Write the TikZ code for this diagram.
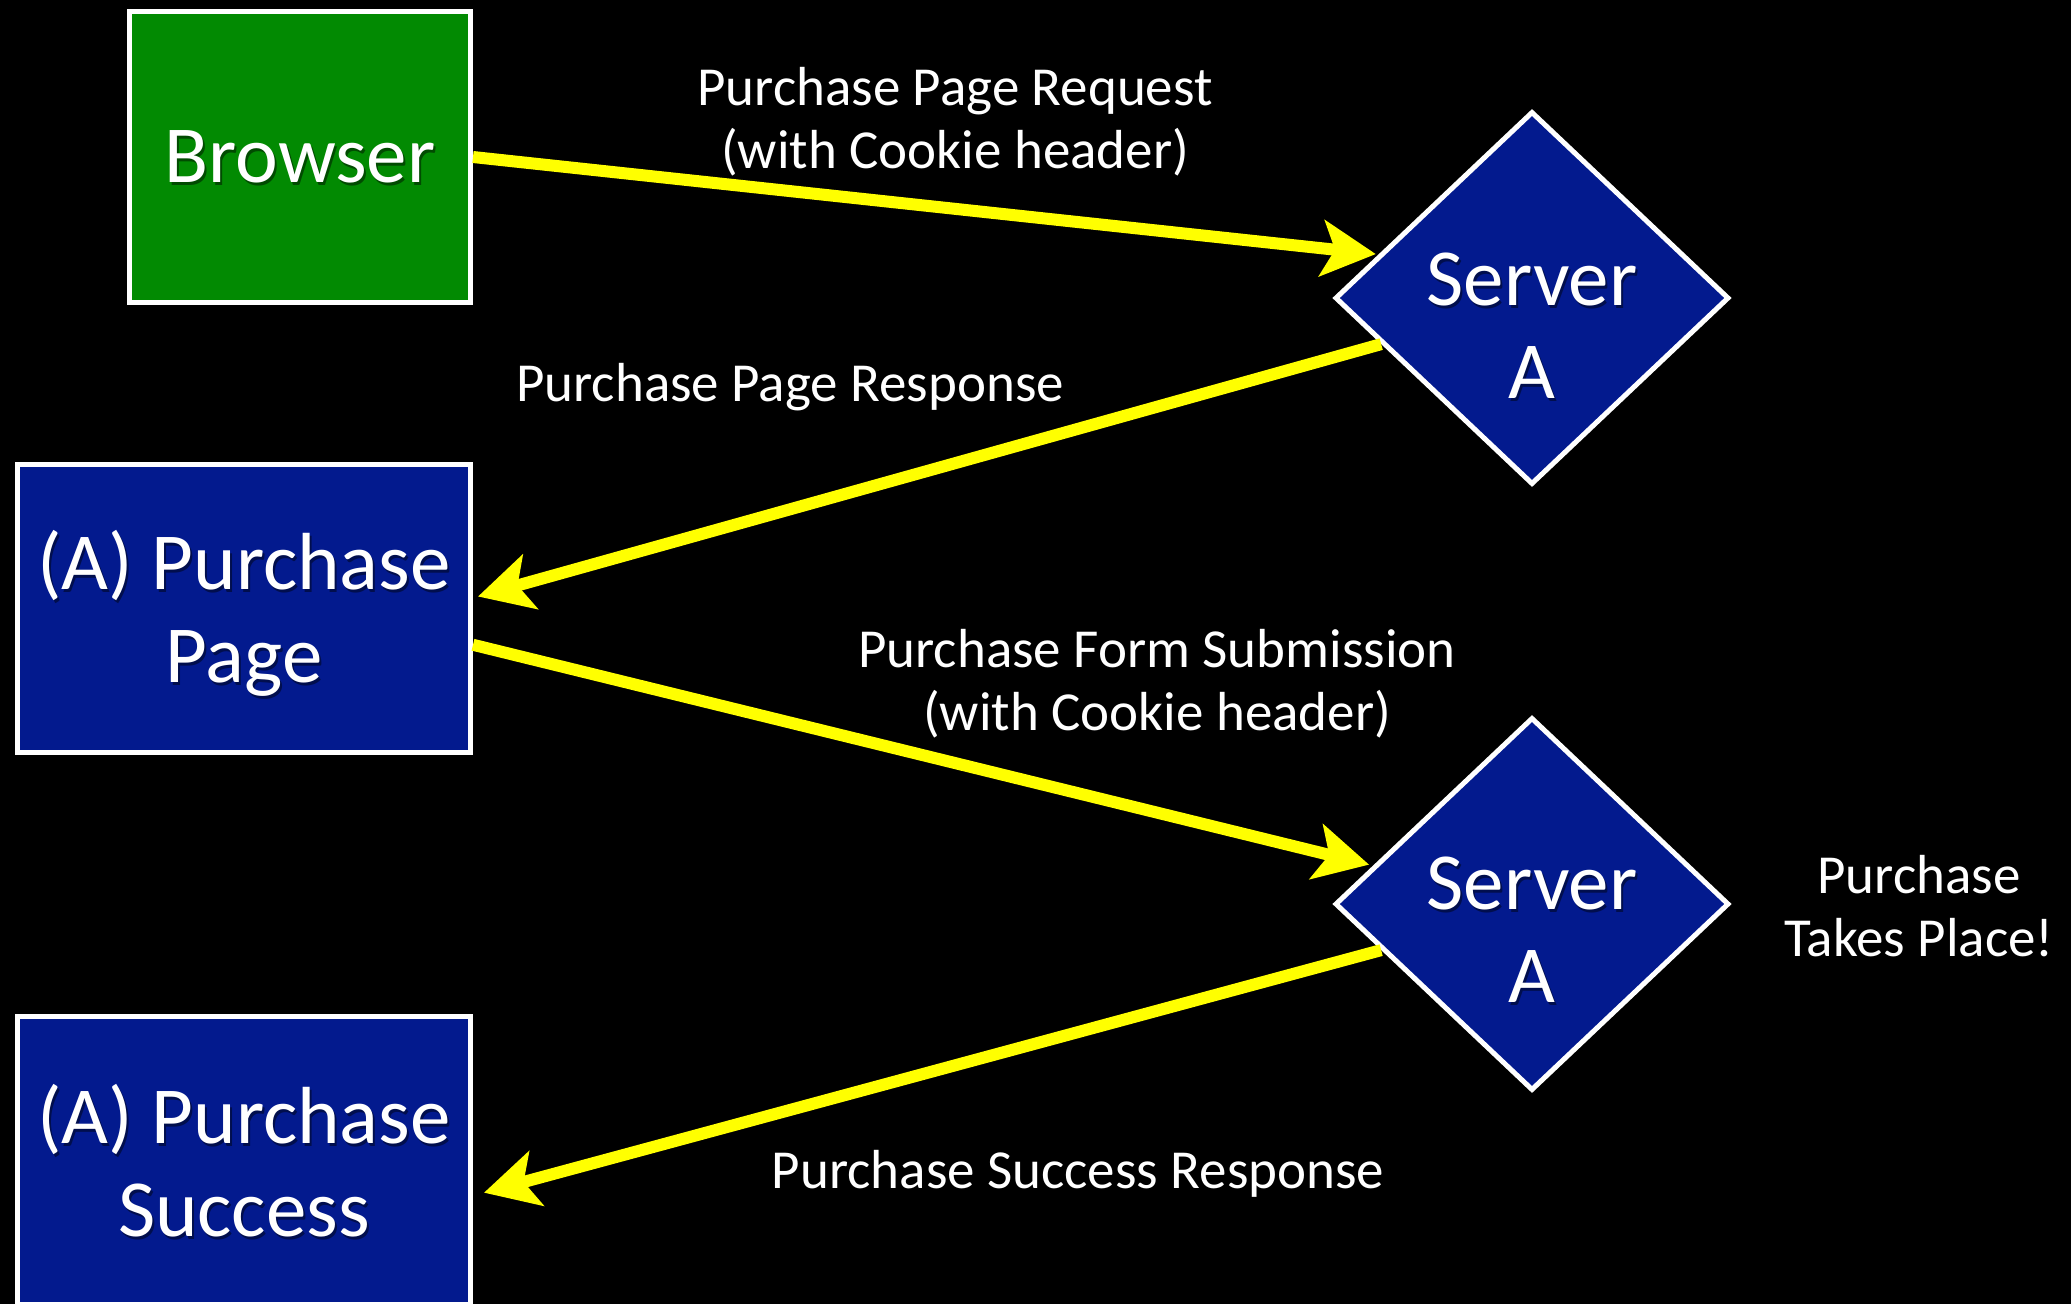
\documentclass[tikz,border=0pt]{standalone}
\usepackage{fontspec}
\setmainfont{Carlito}
\usetikzlibrary{shapes.geometric,arrows.meta,calc}

\definecolor{boxgreen}{RGB}{2,138,2}
\definecolor{boxblue}{RGB}{3,26,142}
\definecolor{flowyellow}{RGB}{255,255,0}

\tikzset{
  box/.style={draw=white, line width=5pt, fill=boxblue, rectangle, inner sep=0pt},
  serverbox/.style={draw=white, line width=5pt, fill=boxblue, diamond, inner sep=0pt,
    minimum width=394pt, minimum height=373pt},
  nodetext/.style={text=white, align=center, font=\fontsize{81}{93}\selectfont},
  nodeshadow/.style={nodetext, text=black, text opacity=0.45},
  flowlabel/.style={text=white, align=center, font=\fontsize{55}{63}\selectfont},
  flow/.style={draw=flowyellow, line width=12pt,
    -{Stealth[length=54pt, width=56pt, inset=13pt]}}
}

% box caption with a soft drop shadow underneath
\newcommand\captionat[3]{%
  \node[nodeshadow] (#2shadow) at ($(#1)+(2,3)$) {#3};
  \node[nodetext] (#2) at (#1) {#3};
}

\begin{document}
\begin{tikzpicture}[x=1pt, y=-1pt]
  \useasboundingbox (0,0) rectangle (2071,1304);
  \clip (0,0) rectangle (2071,1304);
  \fill[black] (0,0) rectangle (2071,1304);

  % client side pages
  \node[box, fill=boxgreen, minimum width=341pt, minimum height=291pt] (browser) at (300,157) {};
  \node[box, minimum width=453pt, minimum height=288pt] (page) at (244,608.5) {};
  \node[box, minimum width=453pt, minimum height=288pt] (success) at (244,1160.5) {};
  \captionat{300,157}{browsertxt}{Browser}
  \captionat{244,613.5}{pagetxt}{(A) Purchase\\Page}
  \captionat{244,1160.5}{successtxt}{(A) Purchase\\Success}

  % server
  \node[serverbox] (srvA) at (1532,298) {};
  \node[serverbox] (srvB) at (1532,904) {};
  \captionat{1532,326}{srvAtxt}{Server\\A}
  \captionat{1532,930}{srvBtxt}{Server\\A}

  % requests and responses
  \draw[flow] (browser.east) -- ($(srvA.164)+(-3,0)$);
  \draw[flow] (srvA.197) -- ($(page.3)+(5,0)$);
  \draw[flow] (page.-9) -- ($(srvB.166)+(-5,0)$);
  \draw[flow] (srvB.197.5) -- ($(success.-8.6)+(11,0)$);

  % labels
  \node[flowlabel] (reqlbl) at (955,122) {Purchase Page Request\\(with Cookie header)};
  \node[flowlabel] (resplbl) at (790,387) {Purchase Page Response};
  \node[flowlabel] (formlbl) at (1157,684) {Purchase Form Submission\\(with Cookie header)};
  \node[flowlabel] (placelbl) at (1919,906) {Purchase\\Takes Place!};
  \node[flowlabel] (succlbl) at (1078,1174) {Purchase Success Response};
\end{tikzpicture}
\end{document}
